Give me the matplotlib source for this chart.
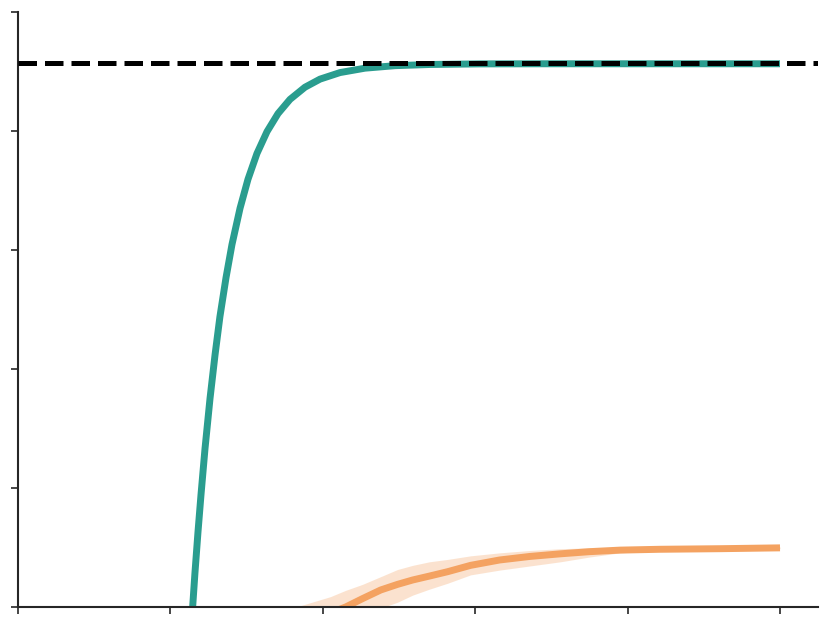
import numpy as np
import matplotlib.pyplot as plt

# reference level (dashed)
target = 4.57

# teal curve
teal_x = [1.125, 1.146, 1.161, 1.181, 1.201, 1.227, 1.260, 1.293, 1.325, 1.365,
          1.404, 1.457, 1.509, 1.568, 1.634, 1.706, 1.785, 1.883, 1.982, 2.113,
          2.277, 2.474, 2.703, 3.031, 3.491, 4.147, 5.0]
teal_y = [-0.4, 0.0, 0.285, 0.63, 0.947, 1.33, 1.753, 2.12, 2.44, 2.768,
          3.046, 3.351, 3.594, 3.811, 3.995, 4.146, 4.266, 4.368, 4.436, 4.491,
          4.528, 4.549, 4.559, 4.564, 4.565, 4.565, 4.565]

# orange curve with band
orange_x = [1.78, 1.85, 2.05, 2.15, 2.26, 2.38, 2.49, 2.59, 2.70, 2.82,
            2.97, 3.16, 3.36, 3.56, 3.75, 3.95, 4.21, 4.61, 5.0]
orange_mean = [-0.2, -0.16, -0.05, 0.0, 0.07, 0.143, 0.19, 0.227, 0.26, 0.297,
               0.35, 0.395, 0.425, 0.447, 0.465, 0.478, 0.485, 0.49, 0.497]
orange_upper = [-0.02, 0.01, 0.087, 0.14, 0.19, 0.255, 0.315, 0.35, 0.38, 0.40,
                0.43, 0.455, 0.475, 0.49, 0.497, 0.498, 0.497, 0.50, 0.505]
orange_lower = [-0.4, -0.35, -0.22, -0.15, -0.08, -0.01, 0.04, 0.10, 0.15, 0.20,
                0.27, 0.31, 0.345, 0.38, 0.42, 0.455, 0.474, 0.48, 0.49]

teal = "#2a9d8f"
orange = "#f4a261"

fig = plt.figure(figsize=(8.31, 6.27), dpi=100)
ax = fig.add_axes([18 / 831, 20 / 627, 800 / 831, 595 / 627])

ax.fill_between(orange_x, orange_lower, orange_upper, color=orange, alpha=0.3, lw=0)
ax.plot(orange_x, orange_mean, color=orange, lw=5, solid_capstyle="butt")
ax.plot(teal_x, teal_y, color=teal, lw=5, solid_capstyle="butt")
ax.axhline(target, color="black", ls="--", lw=3.6, zorder=5)

ax.set_xlim(0, 800 / 152.4)
ax.set_ylim(0, 5)
ax.set_xticks(np.arange(0, 6))
ax.set_yticks(np.arange(0, 6))
ax.tick_params(labelleft=False, labelbottom=False, length=5, width=1.2, color="#262626")
for side in ["top", "right"]:
    ax.spines[side].set_visible(False)
for side in ["left", "bottom"]:
    ax.spines[side].set_linewidth(1.5)
    ax.spines[side].set_color("#262626")

fig.savefig("out.png", dpi=100)
